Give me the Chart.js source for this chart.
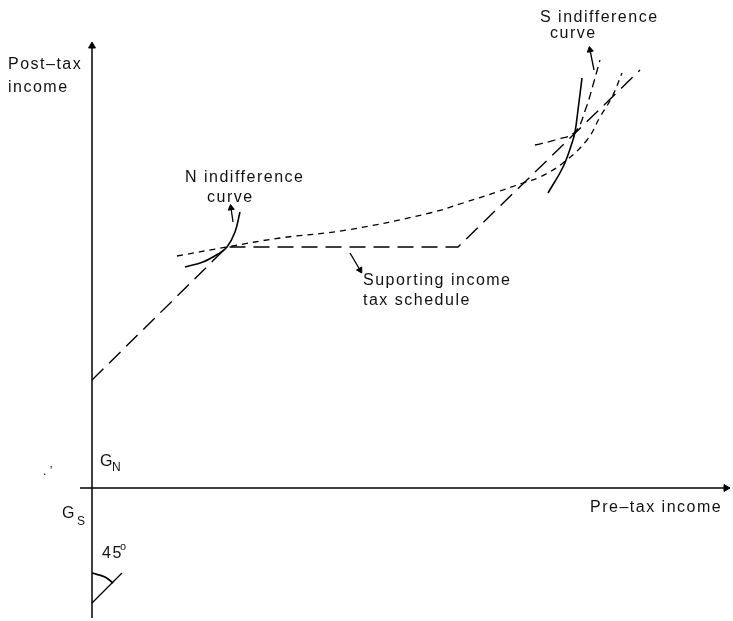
<!doctype html>
<html lang="en">
  <head>
    <meta charset="UTF-8" />
    <title>Supporting income tax schedule</title>
    <script src="https://cdn.jsdelivr.net/npm/chart.js@4.4.1/dist/chart.umd.min.js"></script>
    <style>
      body { margin: 0; background: #fff; }
      canvas { display: block; }
    </style>
  </head>
  <body>
    <canvas id="myChart" width="733" height="621"></canvas>

    <script>
      // pre-tax income on x, post-tax income on y (origin where the axes cross)

      // supporting income tax schedule (long dashes)
      const taxX = [0, 13.5, 36.6, 54.8];
      const taxY = [10.8, 24.1, 24.1, 41.8];

      // N indifference curve, solid piece at the tangency
      const nSolidX = [9.3, 11.1, 12.6, 13.5, 14.3, 14.8];
      const nSolidY = [22.1, 22.6, 23.4, 24.1, 25.6, 27.6];

      // N indifference curve carried on (short dashes)
      const nDashX = [8.5, 13.5, 18.8, 25.5, 33.8, 37.1, 40.5, 43.1, 44.8, 47.1, 49.5, 50.8, 52.0, 53.0];
      const nDashY = [23.2, 24.1, 25.0, 25.8, 27.5, 28.5, 29.6, 30.5, 31.1, 32.5, 34.8, 37.1, 39.1, 41.5];

      // S indifference curve, solid
      const sSolidX = [45.6, 47.1, 48.0, 48.3, 48.6, 49.0];
      const sSolidY = [29.5, 32.1, 34.5, 35.6, 37.8, 41.0];

      // S dashed curve through the S point
      const sDashX = [44.3, 46.3, 48.3, 49.4, 50.1, 50.8];
      const sDashY = [34.3, 34.8, 35.6, 38.0, 40.3, 42.8];

      // 45 degree construction below the origin
      const degLineX = [0, 3.0];
      const degLineY = [-11.5, -8.5];
      const arcX = [0, 1.3, 2.1];
      const arcY = [-8.5, -8.9, -9.5];

      // label pointers [x0, y0, x1, y1]
      const pointerN = [14.1, 26.6, 13.9, 28.0];
      const pointerS = [50.2, 41.8, 49.8, 43.8];
      const pointerTax = [25.8, 23.5, 26.8, 21.8];

      // texts: [text, x, y, size]
      const labels = [
        ['Post\u2013tax', -8.4, 41.9, 16],
        ['income', -8.4, 39.6, 16],
        ['N indifference', 9.3, 30.6, 16],
        ['curve', 11.5, 28.6, 16],
        ['S indifference', 44.8, 46.6, 16],
        ['curve', 45.8, 45.0, 16],
        ['Suporting income', 27.1, 20.3, 16],
        ['tax schedule', 27.1, 18.3, 16],
        ['Pre\u2013tax income', 49.8, -2.4, 16],
        ['G', 0.8, 2.2, 16],
        ['N', 2.0, 1.7, 12],
        ['G', -3.0, -3.0, 16],
        ['S', -1.5, -3.7, 12],
        ['45', 1.0, -7.0, 16],
        ['o', 2.8, -6.2, 11],
        ['. \u2019', -4.9, 1.3, 12]
      ];

      function pts(xs, ys) {
        return xs.map((x, i) => ({ x: x, y: ys[i] }));
      }

      function line(xs, ys, dash, width, tension) {
        return {
          data: pts(xs, ys),
          showLine: true,
          borderColor: '#000',
          borderWidth: width,
          borderDash: dash,
          pointRadius: 0,
          tension: tension,
          fill: false
        };
      }

      // a line with a triangle head on its last point
      function arrow(p, size, width) {
        const dx = p[2] - p[0];
        const dy = p[3] - p[1];
        const rot = Math.atan2(dx, dy) * 180 / Math.PI;
        return {
          data: [{ x: p[0], y: p[1] }, { x: p[2], y: p[3] }],
          showLine: true,
          borderColor: '#000',
          borderWidth: width,
          pointStyle: 'triangle',
          pointRadius: [0, size],
          pointRotation: [0, rot],
          pointBackgroundColor: '#000',
          pointBorderColor: '#000',
          pointBorderWidth: 1
        };
      }

      const textPlugin = {
        id: 'texts',
        afterDatasetsDraw(chart) {
          const ctx = chart.ctx;
          const xs = chart.scales.x;
          const ys = chart.scales.y;
          ctx.save();
          ctx.fillStyle = '#111';
          ctx.textBaseline = 'alphabetic';
          labels.forEach(l => {
            ctx.font = l[3] + 'px "Liberation Sans", Arial, sans-serif';
            ctx.letterSpacing = l[3] >= 16 ? '1.5px' : '0px';
            ctx.fillText(l[0], xs.getPixelForValue(l[1]), ys.getPixelForValue(l[2]));
          });
          ctx.restore();
        }
      };

      window.addEventListener('load', setup);

      function setup() {
        const ctx = document.getElementById('myChart').getContext('2d');
        new Chart(ctx, {
          type: 'scatter',
          data: {
            datasets: [
              arrow([0, -13.0, 0, 44.2], 4, 1.5),
              arrow([-1.2, 0, 63.4, 0], 4, 1.5),
              line(taxX, taxY, [16, 8], 1.4, 0),
              line(nSolidX, nSolidY, [], 1.6, 0.4),
              line(nDashX, nDashY, [6, 5], 1.3, 0.4),
              line(sSolidX, sSolidY, [], 1.6, 0.4),
              line(sDashX, sDashY, [8, 5], 1.3, 0.4),
              line(degLineX, degLineY, [], 1.3, 0),
              line(arcX, arcY, [], 1.8, 0.4),
              arrow(pointerN, 3.5, 1.3),
              arrow(pointerS, 3.5, 1.3),
              arrow(pointerTax, 3.5, 1.3)
            ]
          },
          options: {
            responsive: false,
            animation: false,
            devicePixelRatio: 1,
            layout: { padding: 0, autoPadding: false },
            plugins: {
              legend: { display: false },
              tooltip: { enabled: false }
            },
            scales: {
              x: { type: 'linear', min: -9.2, max: 64.1, display: false },
              y: { type: 'linear', min: -13.3, max: 48.8, display: false }
            }
          },
          plugins: [textPlugin]
        });
      }
    </script>
  </body>
</html>
